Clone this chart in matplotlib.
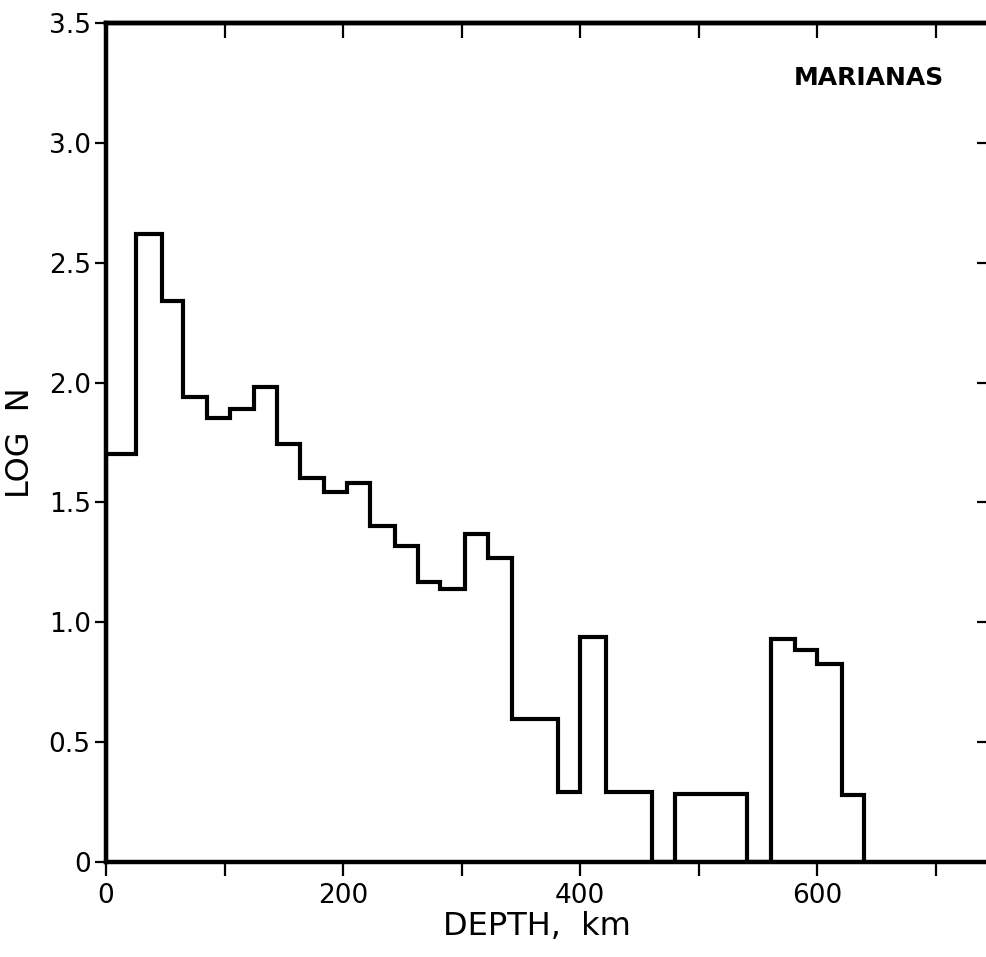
import matplotlib
matplotlib.use("Agg")
import matplotlib.pyplot as plt

# bin edges (km) and log N per bin
depth_edges = [0, 25, 47, 65, 85, 105, 125, 144, 164, 184, 203, 223, 244, 263,
               282, 303, 322, 343, 381, 400, 422, 461, 480, 541, 561, 581, 600,
               621, 640]
log_n = [1.70, 2.62, 2.34, 1.94, 1.85, 1.89, 1.98, 1.745, 1.60, 1.545, 1.58,
         1.40, 1.32, 1.17, 1.14, 1.37, 1.27, 0.595, 0.29, 0.94, 0.29, 0.0,
         0.285, 0.0, 0.93, 0.885, 0.825, 0.28]

x_ticks = [0, 100, 200, 300, 400, 500, 600, 700]
x_labels = ["0", "", "200", "", "400", "", "600", ""]
y_ticks = [0, 0.5, 1.0, 1.5, 2.0, 2.5, 3.0, 3.5]
y_labels = ["0", "0.5", "1.0", "1.5", "2.0", "2.5", "3.0", "3.5"]

fig = plt.figure(figsize=(9.87, 9.57), dpi=100)
ax = fig.add_axes([0.1074, 0.0993, 0.9005, 0.8767])

ax.stairs(log_n, depth_edges, baseline=0, color="black", lw=3,
          joinstyle="miter")

ax.set_xlim(0, 750)
ax.set_ylim(0, 3.5)
ax.set_xticks(x_ticks, labels=x_labels)
ax.set_yticks(y_ticks, labels=y_labels)
ax.tick_params(axis="x", direction="out", length=10, width=1.6,
               labelsize=19, pad=5)
ax.tick_params(axis="y", direction="out", length=8, width=1.6,
               labelsize=19, pad=3)
for s in ax.spines.values():
    s.set_linewidth(3.2)

top = ax.secondary_xaxis("top")
top.set_xticks(x_ticks[1:], labels=[""] * (len(x_ticks) - 1))
top.tick_params(direction="in", length=11, width=1.6)
top.spines["top"].set_linewidth(3.2)

right = ax.secondary_yaxis("right")
right.set_yticks(y_ticks[1:-1], labels=[""] * (len(y_ticks) - 2))
right.tick_params(direction="in", length=13, width=1.6)

ax.set_xlabel("DEPTH,  km", fontsize=23)
ax.xaxis.set_label_coords(0.485, -0.058)
ax.set_ylabel("LOG  N", fontsize=23)
ax.yaxis.set_label_coords(-0.079, 0.5)

ax.text(644, 3.27, "MARIANAS", fontsize=18, fontweight="bold",
        ha="center", va="center")

fig.savefig("out.png", dpi=100)
plt.close(fig)
